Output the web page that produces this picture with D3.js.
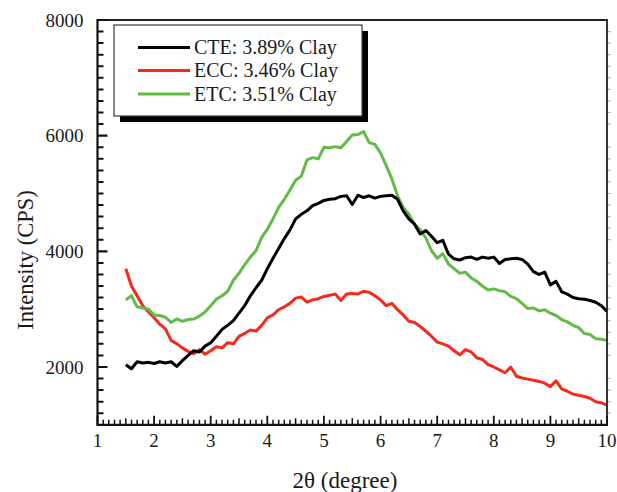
<!DOCTYPE html>
<html>
<head>
<meta charset="utf-8">
<script src="https://cdn.jsdelivr.net/npm/d3@7"></script>
<style>
  html, body { margin: 0; padding: 0; background: #fff; }
  svg { display: block; }
  text { font-family: "Liberation Serif", "Times New Roman", serif; fill: #1a1a1a; }
</style>
</head>
<body>
<svg id="chart" width="617" height="492"></svg>
<script>
// 2θ scan positions (degree)
const angles = d3.range(15, 101).map(d => d / 10);

// Intensity (CPS) for each sample
const cte = [2040,1970,2090,2070,2080,2060,2090,2070,2090,2010,
             2110,2200,2280,2260,2360,2420,2530,2650,2720,2800,
             2930,3060,3230,3370,3500,3700,3880,4050,4220,4370,
             4560,4640,4700,4790,4830,4880,4900,4910,4950,4960,
             4810,4970,4930,4960,4920,4950,4960,4970,4900,4700,
             4560,4470,4300,4360,4260,4150,4190,3950,3870,3850,
             3890,3900,3860,3900,3880,3900,3790,3860,3870,3880,
             3860,3780,3650,3600,3640,3420,3480,3300,3260,3200,
             3180,3170,3150,3120,3060,2960];
const ecc = [3700,3400,3230,3060,2950,2850,2740,2660,2460,2400,
             2330,2270,2230,2300,2220,2280,2350,2330,2420,2400,
             2530,2580,2640,2620,2720,2850,2900,2990,3040,3100,
             3190,3210,3120,3160,3180,3220,3240,3260,3150,3260,
             3270,3260,3310,3290,3230,3160,3060,3100,2990,2900,
             2790,2770,2700,2620,2530,2430,2400,2360,2280,2210,
             2300,2260,2160,2130,2040,2000,1950,1900,2000,1840,
             1810,1790,1770,1750,1720,1660,1760,1620,1580,1530,
             1510,1490,1460,1400,1380,1340];
const etc = [3160,3230,3040,3020,3000,2900,2890,2860,2770,2830,
             2790,2820,2830,2880,2950,3060,3170,3230,3310,3500,
             3620,3770,3900,4010,4240,4380,4560,4760,4900,5060,
             5230,5300,5580,5620,5600,5800,5790,5810,5790,5900,
             6010,6020,6070,5880,5850,5700,5480,5250,4960,4760,
             4640,4470,4370,4230,4010,3880,3960,3780,3700,3620,
             3640,3540,3480,3400,3330,3350,3320,3300,3220,3180,
             3100,3010,3020,2970,2990,2930,2890,2820,2780,2720,
             2680,2580,2560,2490,2480,2460];

const seriesNames = ["CTE: 3.89% Clay", "ECC: 3.46% Clay", "ETC: 3.51% Clay"];
const seriesColors = ["#000000", "#f52a1e", "#62bb46"];
const seriesValues = [cte, ecc, etc];

const xTicks = [1, 2, 3, 4, 5, 6, 7, 8, 9, 10];
const yTicks = [2000, 4000, 6000, 8000];

const svg = d3.select("#chart");
const plotL = 97.5, plotR = 607, plotT = 20, plotB = 424.8;

const x = d3.scaleLinear().domain([1, 10]).range([plotL, plotR]);
const y = d3.scaleLinear().domain([1000, 8000]).range([plotB, plotT]);

// data curves (drawn first so the frame sits over them)
const line = d3.line().x(d => x(d[0])).y(d => y(d[1]));
const plotted = seriesValues.map((vals, i) => ({
  name: seriesNames[i], color: seriesColors[i],
  pts: angles.map((a, j) => [a, vals[j]])
}));
// draw order: red, green, black on top
[1, 2, 0].forEach(i => {
  svg.append("path")
    .attr("d", line(plotted[i].pts))
    .attr("fill", "none")
    .attr("stroke", plotted[i].color)
    .attr("stroke-width", 3)
    .attr("stroke-linejoin", "round");
});

const yMinor = d3.range(6, 40).map(k => k * 200).filter(v => v % 2000 !== 0);
const xMinor = d3.range(11, 100).filter(k => k % 10 !== 0).map(k => k / 10);

// tick marks as plain paths so they render as solid strokes
function yTickPath(values, x0, len) {
  return values.map(v => `M${x0},${y(v).toFixed(1)}h${len}`).join("");
}
function xTickPath(values, y0, lenFn) {
  return values.map(v => `M${x(v).toFixed(1)},${y0}v${-lenFn(v)}`).join("");
}

// right side: faint outward ticks
svg.append("path").attr("d", yTickPath(yMinor, plotR, 3.5))
  .attr("stroke", "#b0b0b0").attr("stroke-width", 1.2).attr("fill", "none");

// frame top / right
svg.append("path").attr("d", `M${plotL},${plotT}H${plotR}V${plotB}`)
  .attr("stroke", "#222").attr("stroke-width", 1.8).attr("fill", "none");

// left axis: inward major and minor ticks
svg.append("path").attr("d", yTickPath(yTicks, plotL, 10))
  .attr("stroke", "#111").attr("stroke-width", 2.2).attr("fill", "none");
svg.append("path").attr("d", yTickPath(yMinor, plotL, 6))
  .attr("stroke", "#111").attr("stroke-width", 2).attr("fill", "none");
svg.append("g").selectAll("text").data(yTicks).join("text")
  .attr("x", plotL - 14).attr("y", d => y(d)).attr("dy", "0.35em")
  .attr("text-anchor", "end").attr("font-size", 19).text(d => d);

// bottom axis: inward major and minor ticks
svg.append("path").attr("d", xTickPath(xTicks, plotB, () => 9))
  .attr("stroke", "#111").attr("stroke-width", 1.8).attr("fill", "none");
svg.append("path").attr("d", xTickPath(xMinor, plotB, v => (Math.round(v * 10) % 5 === 0 ? 6.5 : 5)))
  .attr("stroke", "#111").attr("stroke-width", 1.5).attr("fill", "none");
svg.append("g").selectAll("text").data(xTicks).join("text")
  .attr("x", d => x(d)).attr("y", 447)
  .attr("text-anchor", "middle").attr("font-size", 19).text(d => d);

// left and bottom axis lines
svg.append("path").attr("d", `M${plotL},${plotT - 1}V${plotB}H${plotR + 1}`)
  .attr("stroke", "#111").attr("stroke-width", 2.2).attr("fill", "none");

// axis titles
svg.append("text").attr("x", 345).attr("y", 488).attr("text-anchor", "middle")
  .attr("font-size", 23).text("2θ (degree)");
svg.append("text").attr("transform", "translate(33,260) rotate(-90)")
  .attr("text-anchor", "middle").attr("font-size", 22.5).text("Intensity (CPS)");

// legend with drop shadow
const lg = svg.append("g");
lg.append("rect").attr("x", 120).attr("y", 31).attr("width", 248).attr("height", 91).attr("fill", "#000");
lg.append("rect").attr("x", 114).attr("y", 25).attr("width", 248).attr("height", 91)
  .attr("fill", "#fff").attr("stroke", "#3a3a3a").attr("stroke-width", 1.2);
const rowsY = [47.5, 70.5, 94];
plotted.forEach((s, i) => {
  lg.append("line").attr("x1", 138).attr("x2", 190).attr("y1", rowsY[i]).attr("y2", rowsY[i])
    .attr("stroke", s.color).attr("stroke-width", 3);
  lg.append("text").attr("x", 194).attr("y", rowsY[i]).attr("dy", "0.33em")
    .attr("font-size", 20).text(s.name);
});
</script>
</body>
</html>
